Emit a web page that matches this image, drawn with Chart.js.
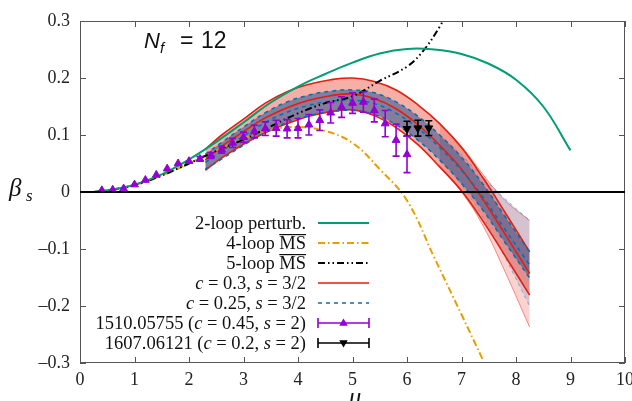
<!DOCTYPE html>
<html lang="en">
<head>
<meta charset="UTF-8">
<title>beta_s, Nf = 12</title>
<style>
  body { margin: 0; background: #fff; }
</style>
</head>
<body>
<canvas id="myChart" width="632" height="401"></canvas>
<script src="https://cdn.jsdelivr.net/npm/chart.js"></script>
<script>
// perturbative curves
const curveX   = [0.25, 0.5, 1, 1.5, 2, 2.5, 3, 3.5, 4, 4.5, 5, 5.5, 6, 6.5, 7, 7.5, 8, 8.5, 9];
const twoLoop  = [0, 0.003, 0.013, 0.031, 0.057, 0.088, 0.122, 0.157, 0.185, 0.207, 0.227, 0.243, 0.251, 0.250, 0.242, 0.225, 0.197, 0.150, 0.073];
const fourX    = [0.25, 0.5, 1, 1.5, 2, 2.5, 3, 3.5, 4, 4.5, 5, 5.5, 6, 6.5, 7, 7.4];
const fourLoop = [0, 0.003, 0.012, 0.029, 0.050, 0.073, 0.094, 0.109, 0.114, 0.107, 0.086, 0.040, -0.015, -0.115, -0.215, -0.296];
const fiveX    = [0.25, 0.5, 1, 1.5, 2, 2.5, 3, 3.5, 4, 4.5, 5, 5.5, 6, 6.3, 6.6, 6.7];
const fiveLoop = [0, 0.003, 0.012, 0.029, 0.050, 0.072, 0.092, 0.115, 0.138, 0.156, 0.168, 0.195, 0.220, 0.248, 0.290, 0.310];

// bands c = 0.3 (red) and c = 0.25 (blue)
const bandX   = [2.3, 2.6, 3.0, 3.4, 3.8, 4.2, 4.6, 5.0, 5.4, 5.8, 6.2, 6.6, 7.0, 7.4, 7.8, 8.25];
const redUp   = [0.075, 0.100, 0.128, 0.156, 0.176, 0.189, 0.197, 0.200, 0.194, 0.179, 0.153, 0.120, 0.078, 0.024, -0.036, -0.105];
const redMid  = [0.056, 0.080, 0.106, 0.130, 0.148, 0.161, 0.169, 0.172, 0.164, 0.146, 0.118, 0.082, 0.040, -0.014, -0.074, -0.143];
const redLow  = [0.038, 0.060, 0.084, 0.104, 0.120, 0.133, 0.141, 0.144, 0.134, 0.113, 0.083, 0.044, 0.002, -0.052, -0.112, -0.181];
const blueUp  = [0.066, 0.087, 0.114, 0.139, 0.158, 0.170, 0.177, 0.179, 0.174, 0.158, 0.133, 0.100, 0.061, 0.013, -0.043, -0.105];
const blueMid = [0.052, 0.072, 0.098, 0.122, 0.140, 0.152, 0.159, 0.161, 0.155, 0.138, 0.112, 0.078, 0.038, -0.010, -0.066, -0.128];
const blueLow = [0.040, 0.058, 0.082, 0.105, 0.122, 0.134, 0.141, 0.143, 0.136, 0.118, 0.091, 0.056, 0.015, -0.033, -0.089, -0.151];

// wider variation at the large-u end
const outerX       = [6.6, 7.0, 7.4, 7.8, 8.25];
const redOuterUp   = [0.120, 0.080, 0.030, -0.015, -0.050];
const redOuterLow  = [0.044, 0.000, -0.060, -0.140, -0.237];
const blueOuterUp  = [0.100, 0.065, 0.025, -0.012, -0.050];
const blueOuterLow = [0.056, 0.012, -0.045, -0.115, -0.200];

// 1510.05755 (c = 0.45, s = 2)
const oldX   = [0.4, 0.6, 0.8, 1.0, 1.2, 1.4, 1.6, 1.8, 2.0, 2.2, 2.4, 2.6, 2.8, 3.0, 3.2, 3.4, 3.6, 3.8, 4.0, 4.2, 4.4, 4.6, 4.8, 5.0, 5.2, 5.4, 5.6, 5.8, 6.0];
const oldY   = [0.003, 0.004, 0.006, 0.013, 0.021, 0.030, 0.041, 0.050, 0.054, 0.058, 0.064, 0.074, 0.086, 0.096, 0.106, 0.111, 0.112, 0.111, 0.112, 0.118, 0.126, 0.139, 0.149, 0.156, 0.158, 0.143, 0.120, 0.091, 0.066];
const oldErr = [0.001, 0.001, 0.001, 0.002, 0.002, 0.002, 0.003, 0.003, 0.003, 0.004, 0.005, 0.006, 0.008, 0.009, 0.011, 0.012, 0.014, 0.016, 0.017, 0.018, 0.018, 0.018, 0.018, 0.018, 0.018, 0.020, 0.023, 0.028, 0.032];

// 1607.06121 (c = 0.2, s = 2)
const newX   = [6.0, 6.2, 6.4];
const newY   = [0.111, 0.112, 0.112];
const newErr = [0.013, 0.014, 0.013];

const xTicks = [0, 1, 2, 3, 4, 5, 6, 7, 8, 9, 10];
const yTicks = [-0.3, -0.2, -0.1, 0, 0.1, 0.2, 0.3];

const legendRows = [
  { label: '2-loop', text: [['2-loop perturb.', 'n']] },
  { label: '4-loop', text: [['4-loop ', 'n'], ['MS', 'o']] },
  { label: '5-loop', text: [['5-loop ', 'n'], ['MS', 'o']] },
  { label: 'red', text: [['c', 'i'], [' = 0.3, ', 'n'], ['s', 'i'], [' = 3/2', 'n']] },
  { label: 'blue', text: [['c', 'i'], [' = 0.25, ', 'n'], ['s', 'i'], [' = 3/2', 'n']] },
  { label: 'old', text: [['1510.05755 (', 'n'], ['c', 'i'], [' = 0.45, ', 'n'], ['s', 'i'], [' = 2)', 'n']] },
  { label: 'new', text: [['1607.06121 (', 'n'], ['c', 'i'], [' = 0.2, ', 'n'], ['s', 'i'], [' = 2)', 'n']] }
];

const GREEN = '#009e73', ORANGE = '#e69f00', RED = '#e51e10', BLUE = '#0072b2', PURPLE = '#9400d3';
const SERIF = '"Liberation Serif", "DejaVu Serif", serif';
const SANS = '"Liberation Sans", Arial, sans-serif';

function pts(xs, ys) { return xs.map((x, i) => ({ x: x, y: ys[i] })); }

function line(label, xs, ys, color, dash, width, order) {
  return {
    label: label, data: pts(xs, ys), borderColor: color, borderWidth: width,
    borderDash: dash, pointRadius: 0, fill: false, order: order, tension: 0.4
  };
}

function fillEdge(xs, ys, fillColor, order, edge) {
  return {
    label: '', data: pts(xs, ys), borderColor: edge || 'rgba(0,0,0,0)', borderWidth: edge ? 1 : 0,
    pointRadius: 0, backgroundColor: fillColor, fill: fillColor ? '+1' : false,
    order: order, tension: 0.4
  };
}

const datasets = [
  { label: 'new', data: pts(newX, newY), errors: newErr, showLine: false, borderColor: '#000',
    backgroundColor: '#000', pointStyle: 'triangle', pointRotation: 180, pointRadius: 4.5, order: 0 },
  { label: 'old', data: pts(oldX, oldY), errors: oldErr, showLine: false, borderColor: PURPLE,
    backgroundColor: PURPLE, pointStyle: 'triangle', pointRadius: 4.5, order: 1 },
  line('2-loop', curveX, twoLoop, GREEN, [], 2, 2),
  line('5-loop', fiveX, fiveLoop, '#000', [7, 3, 1.5, 3, 1.5, 3], 2, 3),
  line('4-loop', fourX, fourLoop, ORANGE, [7, 3, 1.5, 3], 2, 4),
  line('blue', bandX, blueUp, BLUE, [4, 4], 1.5, 5),
  line('blue-mid', bandX, blueMid, BLUE, [4, 4], 1.5, 5),
  line('blue-low', bandX, blueLow, BLUE, [4, 4], 1.5, 5),
  line('red', bandX, redUp, RED, [], 1.6, 6),
  line('red-mid', bandX, redMid, RED, [], 1.6, 6),
  line('red-low', bandX, redLow, RED, [], 1.6, 6),
  fillEdge(bandX, blueUp, 'rgba(40, 85, 150, 0.55)', 7),
  fillEdge(bandX, blueLow, null, 7),
  fillEdge(bandX, redUp, 'rgba(238, 95, 80, 0.5)', 8),
  fillEdge(bandX, redLow, null, 8),
  fillEdge(outerX, blueOuterUp, 'rgba(150, 160, 205, 0.35)', 9, 'rgba(0,114,178,0.5)'),
  fillEdge(outerX, blueOuterLow, null, 9, 'rgba(0,114,178,0.5)'),
  fillEdge(outerX, redOuterUp, 'rgba(240, 110, 100, 0.3)', 10, 'rgba(229,30,16,0.5)'),
  fillEdge(outerX, redOuterLow, null, 10, 'rgba(229,30,16,0.5)')
];
datasets[15].borderDash = [3, 4];
datasets[16].borderDash = [3, 4];

function fmtY(v) {
  const r = Math.round(v * 10) / 10;
  if (r === 0) return '0';
  return (r < 0 ? '\u2013' : '') + Math.abs(r).toFixed(1);
}

// error bars from the dataset values
const errorBars = {
  id: 'errorBars',
  afterDatasetsDraw(chart) {
    const ctx = chart.ctx, xs = chart.scales.x, ys = chart.scales.y;
    chart.data.datasets.forEach(ds => {
      if (!ds.errors) return;
      ctx.save();
      ctx.strokeStyle = ds.borderColor;
      ctx.lineWidth = 1.6;
      ds.data.forEach((p, j) => {
        const e = ds.errors[j];
        if (e < 0.004) return;
        const px = xs.getPixelForValue(p.x);
        const y1 = ys.getPixelForValue(p.y + e), y2 = ys.getPixelForValue(p.y - e);
        ctx.beginPath();
        ctx.moveTo(px, y1); ctx.lineTo(px, y2);
        ctx.moveTo(px - 3.5, y1); ctx.lineTo(px + 3.5, y1);
        ctx.moveTo(px - 3.5, y2); ctx.lineTo(px + 3.5, y2);
        ctx.stroke();
      });
      ctx.restore();
    });
  }
};

// frame, inward ticks and the zero line
const frame = {
  id: 'frame',
  afterDatasetsDraw(chart) {
    const ctx = chart.ctx, a = chart.chartArea, xs = chart.scales.x, ys = chart.scales.y;
    ctx.save();
    ctx.strokeStyle = '#555';
    ctx.lineWidth = 1;
    ctx.strokeRect(a.left + 0.5, a.top + 0.5, a.right - a.left - 1, a.bottom - a.top - 1);
    ctx.beginPath();
    xTicks.forEach(t => {
      const px = Math.round(xs.getPixelForValue(t)) + 0.5;
      ctx.moveTo(px, a.bottom); ctx.lineTo(px, a.bottom - 6);
      ctx.moveTo(px, a.top); ctx.lineTo(px, a.top + 6);
    });
    yTicks.forEach(t => {
      const py = Math.round(ys.getPixelForValue(t)) + 0.5;
      ctx.moveTo(a.left, py); ctx.lineTo(a.left + 6, py);
      ctx.moveTo(a.right, py); ctx.lineTo(a.right - 6, py);
    });
    ctx.stroke();
    const y0 = ys.getPixelForValue(0);
    ctx.strokeStyle = '#000';
    ctx.lineWidth = 2;
    ctx.beginPath();
    ctx.moveTo(a.left, y0); ctx.lineTo(a.right, y0);
    ctx.stroke();
    ctx.restore();
  }
};

function setFont(ctx, kind, size) {
  ctx.font = (kind === 'i' ? 'italic ' : '') + size + 'px ' + SERIF;
}

function drawTriangle(ctx, x, y, r, down) {
  const s = down ? -1 : 1;
  ctx.beginPath();
  ctx.moveTo(x, y - s * r);
  ctx.lineTo(x + r * 0.95, y + s * r * 0.6);
  ctx.lineTo(x - r * 0.95, y + s * r * 0.6);
  ctx.closePath();
  ctx.fill();
}

// title, axis labels and the legend
const texts = {
  id: 'texts',
  afterDraw(chart) {
    const ctx = chart.ctx;
    ctx.save();
    ctx.fillStyle = '#111';
    ctx.textBaseline = 'alphabetic';
    ctx.textAlign = 'left';

    // N_f = 12
    ctx.font = 'italic 22px ' + SANS;
    ctx.fillText('N', 144, 48);
    ctx.font = 'italic 15px ' + SANS;
    ctx.fillText('f', 160, 53);
    ctx.font = '23px ' + SANS;
    ctx.fillText('=', 180, 48);
    ctx.fillText('12', 201, 48);

    // beta_s
    ctx.font = 'italic 25px ' + SERIF;
    ctx.fillText('\u03b2', 9, 196);
    ctx.font = 'italic 17px ' + SERIF;
    ctx.fillText('s', 26, 201);

    // mu
    ctx.font = 'italic 25px ' + SERIF;
    ctx.textAlign = 'center';
    ctx.fillText('\u03bc', 355, 405);
    ctx.textAlign = 'left';

    const size = 18.5, right = 306, x1 = 318, x2 = 369;
    legendRows.forEach((row, i) => {
      const cy = 223 + 20 * i, base = cy + 6;
      let w = 0;
      row.text.forEach(s => { setFont(ctx, s[1], size); w += ctx.measureText(s[0]).width; });
      let x = right - w;
      row.text.forEach(s => {
        setFont(ctx, s[1], size);
        const sw = ctx.measureText(s[0]).width;
        ctx.fillStyle = '#111';
        ctx.fillText(s[0], x, base);
        if (s[1] === 'o') {
          ctx.fillRect(x, base - 15, sw, 1.2);
        }
        x += sw;
      });
      const ds = chart.data.datasets.find(d => d.label === row.label);
      ctx.strokeStyle = ds.borderColor;
      ctx.fillStyle = ds.borderColor;
      ctx.lineWidth = ds.errors ? 1.6 : ds.borderWidth;
      ctx.setLineDash(ds.borderDash || []);
      ctx.beginPath();
      ctx.moveTo(x1, cy); ctx.lineTo(x2, cy);
      ctx.stroke();
      ctx.setLineDash([]);
      if (ds.errors) {
        ctx.beginPath();
        ctx.moveTo(x1, cy - 5); ctx.lineTo(x1, cy + 5);
        ctx.moveTo(x2, cy - 5); ctx.lineTo(x2, cy + 5);
        ctx.stroke();
        drawTriangle(ctx, (x1 + x2) / 2, cy, 4.5, ds.pointRotation === 180);
      }
    });
    ctx.restore();
  }
};

const ctx = document.getElementById('myChart');
new Chart(ctx, {
  type: 'line',
  data: { datasets: datasets },
  options: {
    responsive: false,
    animation: false,
    events: [],
    layout: { padding: { top: 21, right: 7, bottom: 0, left: 0 } },
    plugins: { legend: { display: false }, tooltip: { enabled: false } },
    scales: {
      x: {
        type: 'linear', min: 0, max: 10,
        afterBuildTicks: s => { s.ticks = xTicks.map(v => ({ value: v })); },
        ticks: { font: { family: SERIF, size: 18 }, color: '#222', padding: 6, maxRotation: 0, autoSkip: false,
                 callback: v => String(v) },
        grid: { display: false, drawTicks: false },
        border: { display: false },
        afterFit: s => { s.height = 38; s.paddingLeft = 0; s.paddingRight = 0; }
      },
      y: {
        type: 'linear', min: -0.3, max: 0.3,
        afterBuildTicks: s => { s.ticks = yTicks.map(v => ({ value: v })); },
        ticks: { font: { family: SERIF, size: 18 }, color: '#222', padding: 10, callback: fmtY },
        grid: { display: false, drawTicks: false },
        border: { display: false },
        afterFit: s => { s.width = 80; s.paddingTop = 0; s.paddingBottom = 0; }
      }
    }
  },
  plugins: [errorBars, frame, texts]
});
</script>
</body>
</html>
